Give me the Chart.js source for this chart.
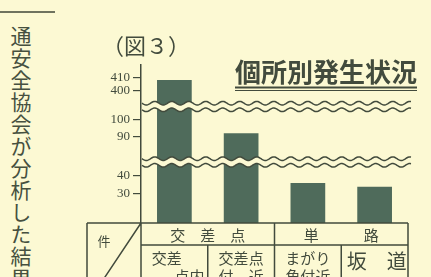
<!DOCTYPE html>
<html>
<head>
<meta charset="utf-8">
<script src="https://cdn.jsdelivr.net/npm/chart.js@4.4.0/dist/chart.umd.min.js"></script>
<style>
	html, body { margin: 0; padding: 0; background: #fcf9d3; }
	#wrap { position: relative; width: 431px; height: 277px; overflow: hidden; }
	#myChart { position: absolute; left: 0; top: 0; }
	#side { position: absolute; left: 6px; top: 26px; height: 400px; white-space: nowrap; writing-mode: vertical-rl; font: 21px "Noto Sans CJK JP"; letter-spacing: 1px; color: #46503f; }
	#rule { position: absolute; left: 0; top: 11px; width: 55px; height: 2px; background: #6f735e; }
</style>
</head>
<body>
<div id="wrap">
	<div id="rule"></div>
	<div id="side">通安全協会が分析した結果</div>
	<canvas id="myChart" width="431" height="277"></canvas>
</div>
<script>
const categories = ['交差点内', '交差点付近', 'まがり角付近', '坂道'];
const categoryLines = [['交差　', '　　点内'], ['交差点', '付　近'], ['まがり', '角付近'], ['坂　道']];
const groups = ['交差点', '交差点', '単路', '単路'];
const counts = [408, 92, 36, 34];
const tickValues = [30, 40, 90, 100, 400, 410];

// broken axis: each piece maps a value range onto the axis (axis units = px above the baseline)
const segments = [
	{ upTo: 60, v0: 30, a0: 29, v1: 40, a1: 47.3 },
	{ upTo: 250, v0: 90, a0: 86.3, v1: 100, a1: 103.7 },
	{ upTo: Infinity, v0: 400, a0: 132.7, v1: 410, a1: 145.7 }
];
const breaksAt = [61, 116.5];
const axisTop = 158;

const bg = '#fcf9d3';
const ink = '#424b3d';
const barColor = '#4f6b5b';
const groupSpacing = { '交差点': 30, '単路': 60 };

function toAxis(v) {
	let s = segments.find(s => v < s.upTo);
	return s.a0 + (v - s.v0) * (s.a1 - s.a0) / (s.v1 - s.v0);
}

function wave(x0, x1, y, reverse) {
	let amp = 1.8, period = 17;
	let pts = [];
	for (let x = x0; x <= x1; x += 1) pts.push([x, y + amp * Math.sin((x - x0) / period * 2 * Math.PI)]);
	if (reverse) pts.reverse();
	return pts;
}

const breakPlugin = {
	id: 'breaks',
	afterDatasetsDraw(chart) {
		let ctx = chart.ctx, y = chart.scales.y, area = chart.chartArea;
		let x0 = area.left + 1, x1 = area.right + 3;
		for (let b of breaksAt) {
			let py = y.getPixelForValue(b);
			let top = wave(x0, x1, py - 3.3, false);
			let bot = wave(x0, x1, py + 3.3, true);
			ctx.save();
			ctx.beginPath();
			top.concat(bot).forEach((p, i) => i ? ctx.lineTo(p[0], p[1]) : ctx.moveTo(p[0], p[1]));
			ctx.closePath();
			ctx.fillStyle = bg;
			ctx.fill();
			ctx.strokeStyle = ink;
			ctx.lineWidth = 1.5;
			for (let line of [top, bot]) {
				ctx.beginPath();
				line.forEach((p, i) => i ? ctx.lineTo(p[0], p[1]) : ctx.moveTo(p[0], p[1]));
				ctx.stroke();
			}
			ctx.restore();
		}
	}
};

const tablePlugin = {
	id: 'table',
	afterDraw(chart) {
		let ctx = chart.ctx, xs = chart.scales.x, area = chart.chartArea;
		let w = xs.width / categories.length;
		let edge = i => xs.getPixelForValue(i) - w / 2;
		let left = area.left, right = area.right, top = area.bottom, mid = 245, bottom = 280;

		ctx.save();
		ctx.strokeStyle = ink;
		ctx.lineWidth = 1.5;
		ctx.beginPath();
		ctx.moveTo(87, top); ctx.lineTo(right, top);
		ctx.moveTo(87, top); ctx.lineTo(87, bottom);
		ctx.moveTo(right, top); ctx.lineTo(right, bottom);
		ctx.moveTo(left, top); ctx.lineTo(left, bottom);
		ctx.moveTo(left, mid); ctx.lineTo(right, mid);
		ctx.moveTo(left, top); ctx.lineTo(103, bottom);
		for (let i = 1; i < categories.length; i++) {
			let x = edge(i);
			let sameGroup = groups[i] === groups[i - 1];
			ctx.moveTo(x, sameGroup ? mid : top);
			ctx.lineTo(x, bottom);
		}
		ctx.stroke();

		ctx.fillStyle = ink;
		ctx.textAlign = 'center';
		ctx.textBaseline = 'middle';
		ctx.font = '13px "Noto Sans CJK JP"';
		ctx.fillText('件', 104, 241);

		// group row
		ctx.font = '15px "Noto Sans CJK JP"';
		let start = 0;
		for (let i = 1; i <= groups.length; i++) {
			if (i === groups.length || groups[i] !== groups[start]) {
				let cx = (edge(start) + edge(i - 1) + w) / 2;
				let chars = [...groups[start]];
				let sp = groupSpacing[groups[start]];
				chars.forEach((c, k) => ctx.fillText(c, cx + (k - (chars.length - 1) / 2) * sp, 235));
				start = i;
			}
		}

		// category row
		categoryLines.forEach((lines, i) => {
			let cx = xs.getPixelForValue(i);
			if (lines.length === 1) {
				ctx.font = '20px "Noto Sans CJK JP"';
				ctx.fillText(lines[0], cx + 2, 261);
			} else {
				ctx.font = '15px "Noto Sans CJK JP"';
				ctx.fillText(lines[0], cx, 258);
				ctx.fillText(lines[1], cx, 276);
			}
		});

		// titles
		ctx.textAlign = 'left';
		ctx.font = '22px "Noto Sans CJK JP"';
		ctx.fillText('（図３）', 102, 46);
		ctx.textAlign = 'right';
		ctx.font = 'bold 26px "Noto Sans CJK JP"';
		ctx.fillText('個所別発生状況', 417, 72);
		ctx.fillRect(235, 86.5, 182, 2);
		ctx.fillRect(235, 90, 182, 1);
		ctx.restore();
	}
};

const ctx = document.getElementById('myChart');

new Chart(ctx, {
	type: 'bar',
	data: {
		labels: categories,
		datasets: [{
			label: '件数',
			data: counts.map(toAxis),
			backgroundColor: barColor,
			barPercentage: 0.65,
			categoryPercentage: 0.8
		}]
	},
	options: {
		responsive: false,
		animation: false,
		layout: { padding: { left: 91, top: 65, right: 23, bottom: 54 } },
		plugins: { legend: { display: false }, tooltip: { enabled: false } },
		scales: {
			x: { display: false },
			y: {
				min: 0,
				max: axisTop,
				afterFit: s => { s.width = 50; },
				afterBuildTicks: s => { s.ticks = tickValues.map(v => ({ value: toAxis(v) })); },
				ticks: {
					autoSkip: false,
					padding: 3,
					color: ink,
					font: { family: 'Liberation Serif', size: 13 },
					callback: (v, i) => tickValues[i]
				},
				grid: { drawOnChartArea: false, tickLength: 8, color: ink, lineWidth: 1.2 },
				border: { color: ink, width: 1.5 }
			}
		}
	},
	plugins: [breakPlugin, tablePlugin]
});
</script>
</body>
</html>
